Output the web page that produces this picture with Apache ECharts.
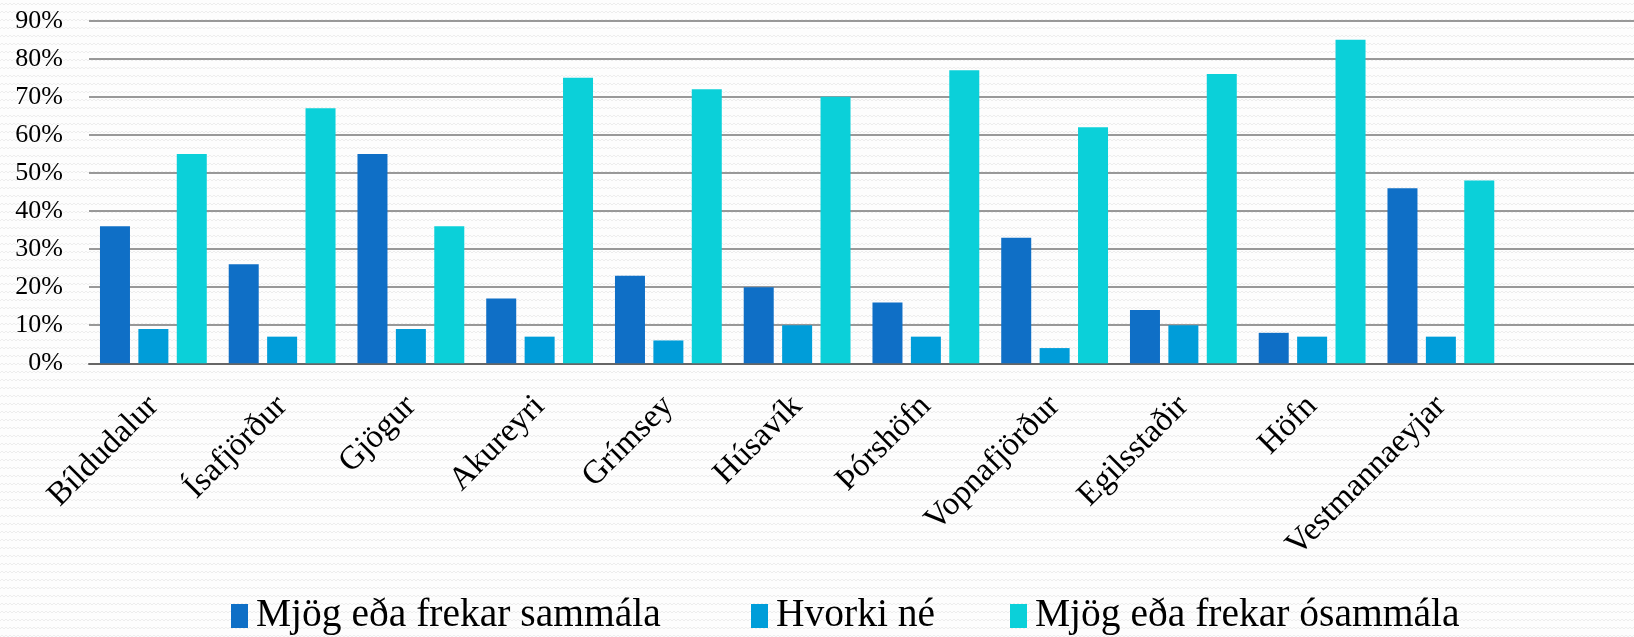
<!DOCTYPE html>
<html>
<head>
<meta charset="utf-8">
<script src="https://cdn.jsdelivr.net/npm/echarts@6/dist/echarts.min.js"></script>
<style>
html,body{margin:0;padding:0;background:#fcfcfc;}
#chart{width:1634px;height:637px;}
</style>
</head>
<body>
<div id="chart"></div>
<script>
const categories = ['Bíldudalur','Ísafjörður','Gjögur','Akureyri','Grímsey','Húsavík','Þórshöfn','Vopnafjörður','Egilsstaðir','Höfn','Vestmannaeyjar',''];
const seriesNames = ['Mjög eða frekar sammála','Hvorki né','Mjög eða frekar ósammála'];
const sammala  = [36, 26, 55, 17, 23, 20, 16, 33, 14, 8, 46, null];
const hvorki   = [9, 7, 9, 7, 6, 10, 7, 4, 10, 7, 7, null];
const osammala = [55, 67, 36, 75, 72, 70, 77, 62, 76, 85, 48, null];
const yTicks = [0, 10, 20, 30, 40, 50, 60, 70, 80, 90];

// faint zigzag background pattern
const pc = document.createElement('canvas');
pc.width = 8; pc.height = 8;
const g = pc.getContext('2d');
g.fillStyle = '#fdfdfd'; g.fillRect(0,0,8,8);
g.strokeStyle = '#ededed'; g.lineWidth = 1;
g.beginPath(); g.moveTo(0,5); g.lineTo(2,3); g.lineTo(4,5); g.lineTo(6,3); g.lineTo(8,5); g.stroke();

const colors = ['#0F6FC6', '#009DD9', '#0BD0D9'];
const chart = echarts.init(document.getElementById('chart'), null, {renderer:'canvas'});
const legendBase = {
  orient: 'horizontal', top: 596, padding: 0, itemWidth: 17, itemHeight: 24, itemGap: 0,
  icon: 'rect',
  textStyle: {fontFamily: 'Liberation Serif', fontSize: 39.5, color: '#000', padding: [0, 0, 0, 3]}
};
chart.setOption({
  backgroundColor: {image: pc, repeat: 'repeat'},
  animation: false,
  color: colors,
  grid: {left: 89, top: 20.7, width: 1556, height: 342.6, containLabel: false},
  legend: [
    Object.assign({}, legendBase, {left: 231, data: [seriesNames[0]]}),
    Object.assign({}, legendBase, {left: 751, data: [seriesNames[1]]}),
    Object.assign({}, legendBase, {left: 1010, data: [seriesNames[2]]})
  ],
  xAxis: {
    type: 'category', data: categories,
    axisLine: {show: true, lineStyle: {color: '#666', width: 2}},
    axisTick: {show: false},
    axisLabel: {rotate: 45, margin: 38, interval: 0, fontFamily: 'Liberation Serif', fontSize: 33, color: '#000'}
  },
  yAxis: {
    type: 'value', min: 0, max: 90, interval: 10,
    axisLine: {show: false}, axisTick: {show: false},
    splitLine: {lineStyle: {color: '#777', width: 1.5}},
    axisLabel: {margin: 26, fontFamily: 'Liberation Serif', fontSize: 26, color: '#000',
      formatter: v => yTicks.includes(v) ? v + '%' : ''}
  },
  series: [
    {name: seriesNames[0], type: 'bar', data: sammala, barWidth: 30, barGap: '28%'},
    {name: seriesNames[1], type: 'bar', data: hvorki, barWidth: 30, barGap: '28%'},
    {name: seriesNames[2], type: 'bar', data: osammala, barWidth: 30, barGap: '28%'}
  ]
});
</script>
</body>
</html>
